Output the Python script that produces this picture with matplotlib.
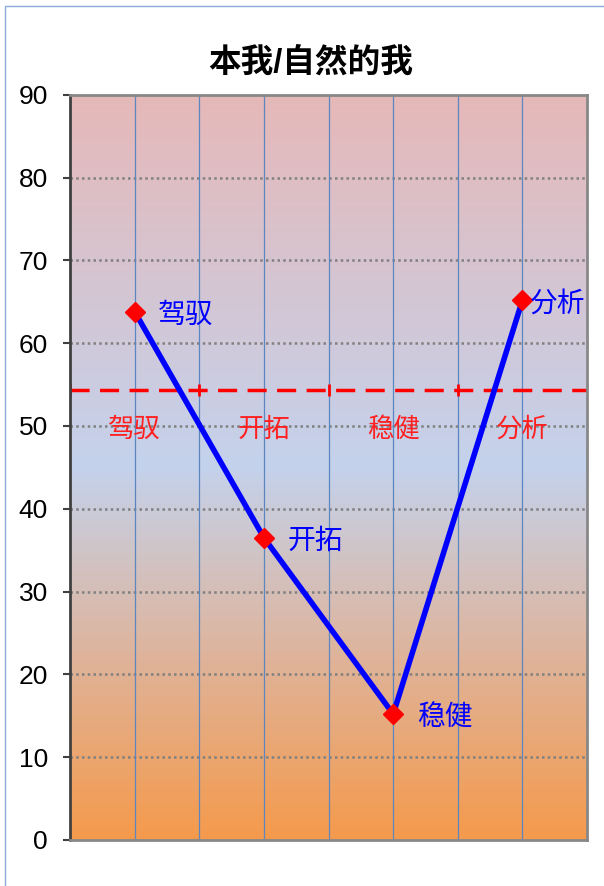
import matplotlib
matplotlib.use('Agg')
import matplotlib.pyplot as plt
import numpy as np
from matplotlib.colors import LinearSegmentedColormap

plt.rcParams['font.family'] = ['Liberation Sans', 'Noto Sans CJK SC', 'DejaVu Sans']

# Дані
categories = ['驾驭', '开拓', '稳健', '分析']
values = [63.8, 36.5, 15.2, 65.2]
x_pos = [1, 3, 5, 7]
threshold = 54.3
band_label_y = 49.6
title = '本我/自然的我'

fig = plt.figure(figsize=(6.04, 8.86), dpi=100)
ax = fig.add_axes([0.116, 0.052, 0.856, 0.841])

# Градієнтний фон
cmap = LinearSegmentedColormap.from_list(
    'bg', [(0.0, '#F59A4C'), (0.25, '#DEB49C'), (0.5, '#C4D2EC'), (1.0, '#E6B8B8')])
grad = np.linspace(0, 1, 256).reshape(-1, 1)
ax.imshow(grad, cmap=cmap, origin='lower', aspect='auto',
          extent=[0, 8, 0, 90], zorder=0)

ax.set_xlim(0, 8)
ax.set_ylim(0, 90)

# Сітка
for v in range(10, 90, 10):
    ax.axhline(v, color='#808080', linestyle=(0, (1, 1.3)), linewidth=1.8, zorder=1)
for xv in range(1, 8):
    ax.axvline(xv, color='#5B86C0', linewidth=0.9, zorder=1)

# Поріг
ax.axhline(threshold, color='#FF0000', linestyle=(0, (5.5, 3)), linewidth=2.5, zorder=2)
ax.plot([0, 2, 4, 6], [threshold] * 4, linestyle='none', marker='|',
        color='#FF0000', markersize=9, markeredgewidth=2, zorder=2)
for xp, c in zip(x_pos, categories):
    ax.text(xp, band_label_y, c, color='#FF2020', fontsize=19,
            ha='center', va='center', zorder=3)

# Лінія даних
ax.plot(x_pos, values, color='#0000FF', linewidth=4, zorder=4)
ax.plot(x_pos, values, linestyle='none', marker='D', color='#FF0000',
        markersize=10, zorder=5)
offsets = [17, 17, 17, 5]
for xp, v, c, off in zip(x_pos, values, categories, offsets):
    ax.annotate(c, (xp, v), xytext=(off, -3), textcoords='offset points',
                color='#0000FF', fontsize=20, ha='left', va='center', zorder=6)

# Осі
ax.set_yticks(range(0, 91, 10))
ax.set_xticks([])
ax.tick_params(axis='y', labelsize=19, length=5, width=1.5, color='#404040', pad=11)
ax.spines['left'].set_color('#404040')
ax.spines['left'].set_linewidth(2)
for s in ['right', 'top', 'bottom']:
    ax.spines[s].set_color('#888888')
    ax.spines[s].set_linewidth(2)

fig.text(0.515, 0.929, title, fontsize=23.5, fontweight='bold', ha='center', va='center')

# Рамка
fig.patches.append(plt.Rectangle((0.009, -0.01), 1.2, 1.003, transform=fig.transFigure,
                                 fill=False, edgecolor='#8EA9DB', linewidth=1))

fig.savefig('out.png', dpi=100)
